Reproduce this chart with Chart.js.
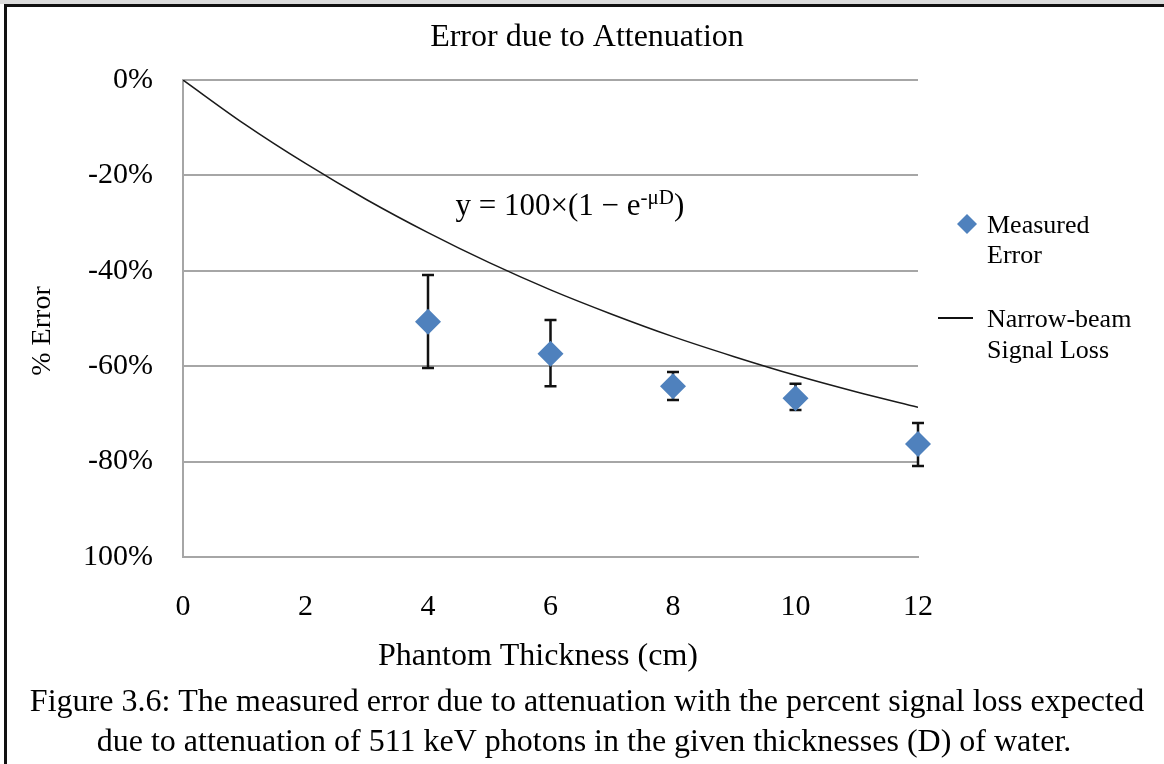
<!DOCTYPE html>
<html>
<head>
<meta charset="utf-8">
<title>Error due to Attenuation</title>
<script src="https://cdn.jsdelivr.net/npm/chart.js"></script>
<style>
  body { margin: 0; background: #fff; }
  canvas { display: block; }
</style>
</head>
<body>
<canvas id="errChart" width="1164" height="764"></canvas>
<script>
// measured points (cm, % error) and their error bar ends
const thickness = [4, 6, 8, 10, 12];
const measuredError = [-50.7, -57.4, -64.2, -66.7, -76.3];
const errTop = [-40.9, -50.3, -61.2, -63.7, -71.9];
const errBottom = [-60.4, -64.2, -67.1, -69.2, -80.9];

// narrow-beam signal loss curve
const curveD = [0, 1, 2, 3, 4, 5, 6, 7, 8, 9, 10, 11, 12];
const curveLoss = [0, -9.2, -17.5, -25.1, -32.0, -38.3, -44.0, -49.1, -53.8, -58.0, -61.9, -65.4, -68.6];

// y tick labels, top (0) to bottom (-100) as printed
const yTickLabels = ["0%", "-20%", "-40%", "-60%", "-80%", "100%"];

const SERIF = '"Liberation Serif", "Times New Roman", serif';
const BLUE = "#4F81BD";
const GRID = "#a6a6a6";

const decorations = {
  id: "decorations",
  beforeDraw(chart) {
    const ctx = chart.ctx;
    ctx.save();
    ctx.fillStyle = "#fff";
    ctx.fillRect(0, 0, chart.width, chart.height);
    ctx.fillStyle = "#dcdcdc";
    ctx.fillRect(0, 0, chart.width, 4);
    ctx.fillStyle = "#111";
    ctx.fillRect(4, 4, chart.width - 4, 3);
    ctx.fillRect(4, 4, 3, chart.height - 4);
    ctx.restore();
  },
  beforeDatasetsDraw(chart) {
    const ctx = chart.ctx;
    const xs = chart.scales.x, ys = chart.scales.y;
    ctx.save();
    ctx.strokeStyle = "#111";
    ctx.lineWidth = 2.5;
    thickness.forEach((d, i) => {
      const x = xs.getPixelForValue(d);
      const y1 = ys.getPixelForValue(errTop[i]);
      const y2 = ys.getPixelForValue(errBottom[i]);
      ctx.beginPath();
      ctx.moveTo(x, y1); ctx.lineTo(x, y2);
      ctx.moveTo(x - 6, y1); ctx.lineTo(x + 6, y1);
      ctx.moveTo(x - 6, y2); ctx.lineTo(x + 6, y2);
      ctx.stroke();
    });
    ctx.restore();
  },
  afterDraw(chart) {
    const ctx = chart.ctx;
    const xs = chart.scales.x, ys = chart.scales.y;
    ctx.save();
    ctx.fillStyle = "#000";
    ctx.textBaseline = "alphabetic";

    // title
    ctx.textAlign = "center";
    ctx.font = "32px " + SERIF;
    ctx.fillText("Error due to Attenuation", 587, 46);

    // x axis title
    ctx.fillText("Phantom Thickness (cm)", 538, 665);

    // caption
    ctx.font = "32px " + SERIF;
    ctx.fillText("Figure 3.6: The measured error due to attenuation with the percent signal loss expected", 587, 711);
    ctx.fillText("due to attenuation of 511 keV photons in the given thicknesses (D) of water.", 584, 751);

    // y axis title
    ctx.save();
    ctx.font = "28px " + SERIF;
    ctx.translate(50, 331);
    ctx.rotate(-Math.PI / 2);
    ctx.fillText("% Error", 0, 0);
    ctx.restore();

    // equation
    ctx.textAlign = "left";
    let ex = xs.getPixelForValue(4.45);
    const ey = ys.getPixelForValue(-28.3);
    const main = "y = 100\u00d7(1 \u2212 e";
    ctx.font = "31px " + SERIF;
    ctx.fillText(main, ex, ey);
    ex += ctx.measureText(main).width;
    ctx.font = "21px " + SERIF;
    ctx.fillText("-\u03bcD", ex, ey - 11);
    ex += ctx.measureText("-\u03bcD").width;
    ctx.font = "31px " + SERIF;
    ctx.fillText(")", ex, ey);

    // legend
    ctx.font = "26px " + SERIF;
    ctx.fillStyle = BLUE;
    ctx.beginPath();
    ctx.moveTo(967, 214); ctx.lineTo(977, 224); ctx.lineTo(967, 234); ctx.lineTo(957, 224);
    ctx.closePath();
    ctx.fill();
    ctx.fillStyle = "#000";
    ctx.fillText("Measured", 987, 233);
    ctx.fillText("Error", 987, 263);
    ctx.strokeStyle = "#111";
    ctx.lineWidth = 2;
    ctx.beginPath();
    ctx.moveTo(938, 318); ctx.lineTo(973, 318);
    ctx.stroke();
    ctx.fillText("Narrow-beam", 987, 327);
    ctx.fillText("Signal Loss", 987, 358);
    ctx.restore();
  }
};

new Chart(document.getElementById("errChart").getContext("2d"), {
  data: {
    datasets: [
      {
        type: "scatter",
        label: "Measured Error",
        data: thickness.map((d, i) => ({ x: d, y: measuredError[i] })),
        pointStyle: "rectRot",
        pointRadius: 13,
        backgroundColor: BLUE,
        borderColor: BLUE,
        borderWidth: 0,
        clip: false,
      },
      {
        type: "line",
        label: "Narrow-beam Signal Loss",
        data: curveD.map((d, i) => ({ x: d, y: curveLoss[i] })),
        borderColor: "#1a1a1a",
        borderWidth: 1.5,
        pointRadius: 0,
        fill: false,
        cubicInterpolationMode: "monotone",
      },
    ],
  },
  options: {
    responsive: false,
    animation: false,
    layout: { padding: { left: 0, top: 80, right: 246, bottom: 107 } },
    plugins: {
      legend: { display: false },
      tooltip: { enabled: false },
      title: { display: false },
    },
    scales: {
      x: {
        type: "linear",
        min: 0,
        max: 12,
        afterFit: (s) => { s.height = 100; },
        ticks: { stepSize: 2, padding: 32, maxRotation: 0, color: "#000", font: { family: SERIF, size: 30 } },
        grid: { display: false, drawTicks: false },
        border: { display: true, color: GRID, width: 2 },
      },
      y: {
        min: -100,
        max: 0,
        afterFit: (s) => { s.width = 183; },
        ticks: {
          stepSize: 20,
          padding: 30,
          color: "#000",
          font: { family: SERIF, size: 30 },
          callback: (v) => yTickLabels[Math.round(-v / 20)],
        },
        grid: { color: GRID, lineWidth: 2, drawTicks: false },
        border: { display: true, color: GRID, width: 2 },
      },
    },
  },
  plugins: [decorations],
});
</script>
</body>
</html>
